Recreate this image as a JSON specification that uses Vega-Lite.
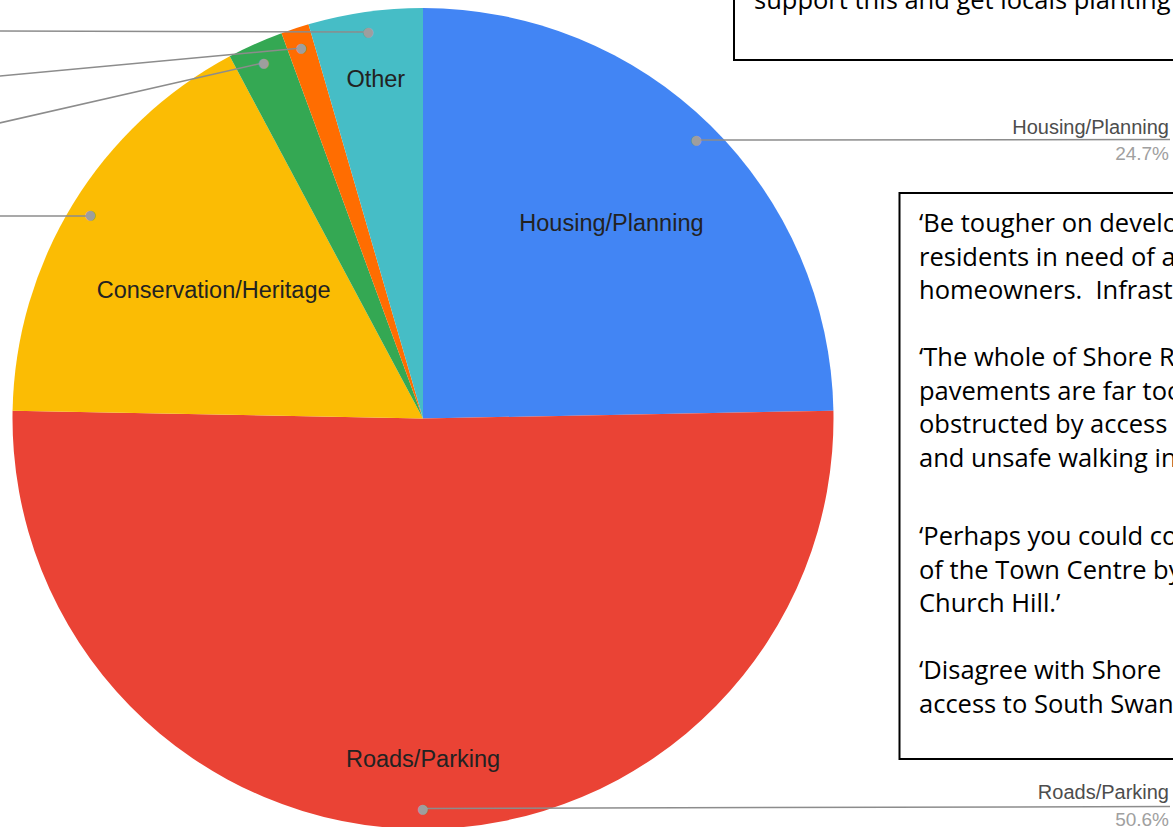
{
  "$schema": "https://vega.github.io/schema/vega-lite/v6.json",
  "width": 1173,
  "height": 827,
  "padding": 0,
  "autosize": {"type": "none"},
  "background": "#ffffff",
  "config": {"view": {"stroke": null}, "axis": {"disable": true}},
  "datasets": {
    "slices": [
      {"category": "Housing/Planning", "pct": 24.7, "order": 1},
      {"category": "Roads/Parking", "pct": 50.6, "order": 2},
      {"category": "Conservation/Heritage", "pct": 16.9, "order": 3},
      {"category": "Category 4", "pct": 2.2, "order": 4},
      {"category": "Category 5", "pct": 1.1, "order": 5},
      {"category": "Other", "pct": 4.5, "order": 6}
    ],
    "notes": [
      {"para": 0, "lines": ["support this and get locals planting"]},
      {"para": 1, "lines": ["‘Be tougher on developers", "residents in need of affordable", "homeowners. \u00a0Infrastructure"]},
      {"para": 2, "lines": ["‘The whole of Shore Road", "pavements are far too narrow", "obstructed by access", "and unsafe walking in"]},
      {"para": 3, "lines": ["‘Perhaps you could consider", "of the Town Centre by", "Church Hill.’"]},
      {"para": 4, "lines": ["‘Disagree with Shore", "access to South Swanage"]}
    ],
    "one": [{}]
  },
  "data": {"name": "slices"},
  "layer": [
    {
      "mark": {"type": "arc", "radius": 410.5},
      "encoding": {
        "theta": {"field": "pct", "type": "quantitative", "stack": true},
        "order": {"field": "order", "type": "quantitative"},
        "color": {"field": "category", "type": "nominal", "legend": null,
          "scale": {"domain": ["Housing/Planning", "Roads/Parking", "Conservation/Heritage", "Category 4", "Category 5", "Other"],
                    "range": ["#4285F4", "#EA4335", "#FBBC04", "#34A853", "#FF6D01", "#46BDC6"]}},
        "x": {"datum": 423, "type": "quantitative", "scale": {"domain": [0, 1173], "nice": false, "zero": false}},
        "y": {"datum": 418.5, "type": "quantitative", "scale": {"domain": [0, 827], "reverse": true, "nice": false, "zero": false}}
      }
    },
    {
      "data": {"name": "one"},
      "mark": {"type": "rule", "color": "#8c8c8c", "strokeWidth": 1.5},
      "encoding": {
        "x": {"datum": 368, "type": "quantitative", "scale": {"domain": [0, 1173], "nice": false, "zero": false}},
        "y": {"datum": 32, "type": "quantitative", "scale": {"domain": [0, 827], "reverse": true, "nice": false, "zero": false}},
        "x2": {"datum": -5}, "y2": {"datum": 31}
      }
    },
    {
      "data": {"name": "one"},
      "mark": {"type": "rule", "color": "#8c8c8c", "strokeWidth": 1.5},
      "encoding": {
        "x": {"datum": 302, "type": "quantitative", "scale": {"domain": [0, 1173], "nice": false, "zero": false}},
        "y": {"datum": 48, "type": "quantitative", "scale": {"domain": [0, 827], "reverse": true, "nice": false, "zero": false}},
        "x2": {"datum": -5}, "y2": {"datum": 76.5}
      }
    },
    {
      "data": {"name": "one"},
      "mark": {"type": "rule", "color": "#8c8c8c", "strokeWidth": 1.5},
      "encoding": {
        "x": {"datum": 263, "type": "quantitative", "scale": {"domain": [0, 1173], "nice": false, "zero": false}},
        "y": {"datum": 63, "type": "quantitative", "scale": {"domain": [0, 827], "reverse": true, "nice": false, "zero": false}},
        "x2": {"datum": -5}, "y2": {"datum": 124}
      }
    },
    {
      "data": {"name": "one"},
      "mark": {"type": "rule", "color": "#8c8c8c", "strokeWidth": 1.5},
      "encoding": {
        "x": {"datum": 90, "type": "quantitative", "scale": {"domain": [0, 1173], "nice": false, "zero": false}},
        "y": {"datum": 216, "type": "quantitative", "scale": {"domain": [0, 827], "reverse": true, "nice": false, "zero": false}},
        "x2": {"datum": -5}, "y2": {"datum": 216}
      }
    },
    {
      "data": {"name": "one"},
      "mark": {"type": "rule", "color": "#8c8c8c", "strokeWidth": 1.5},
      "encoding": {
        "x": {"datum": 697, "type": "quantitative", "scale": {"domain": [0, 1173], "nice": false, "zero": false}},
        "y": {"datum": 140, "type": "quantitative", "scale": {"domain": [0, 827], "reverse": true, "nice": false, "zero": false}},
        "x2": {"datum": 1170}, "y2": {"datum": 139.5}
      }
    },
    {
      "data": {"name": "one"},
      "mark": {"type": "rule", "color": "#8c8c8c", "strokeWidth": 1.5},
      "encoding": {
        "x": {"datum": 423, "type": "quantitative", "scale": {"domain": [0, 1173], "nice": false, "zero": false}},
        "y": {"datum": 808.5, "type": "quantitative", "scale": {"domain": [0, 827], "reverse": true, "nice": false, "zero": false}},
        "x2": {"datum": 1170}, "y2": {"datum": 806.5}
      }
    },
    {
      "mark": {"type": "text", "radius": 390, "text": "●", "font": "DejaVu Sans", "fontSize": 13, "color": "#9e9e9e", "align": "center", "baseline": "middle"},
      "encoding": {
        "theta": {"field": "pct", "type": "quantitative", "stack": true},
        "order": {"field": "order", "type": "quantitative"},
        "x": {"datum": 423, "type": "quantitative", "scale": {"domain": [0, 1173], "nice": false, "zero": false}},
        "y": {"datum": 418.5, "type": "quantitative", "scale": {"domain": [0, 827], "reverse": true, "nice": false, "zero": false}}
      }
    },
    {
      "mark": {"type": "text", "radius": 269, "dy": 4, "font": "Liberation Sans", "fontSize": 23.5, "color": "#222222", "align": "center", "baseline": "alphabetic"},
      "encoding": {
        "theta": {"field": "pct", "type": "quantitative", "stack": true},
        "order": {"field": "order", "type": "quantitative"},
        "text": {"condition": {"test": "datum.category === 'Housing/Planning'", "field": "category", "type": "nominal"}, "value": ""},
        "x": {"datum": 423, "type": "quantitative", "scale": {"domain": [0, 1173], "nice": false, "zero": false}},
        "y": {"datum": 418.5, "type": "quantitative", "scale": {"domain": [0, 827], "reverse": true, "nice": false, "zero": false}}
      }
    },
    {
      "mark": {"type": "text", "radius": 348, "font": "Liberation Sans", "fontSize": 23.5, "color": "#222222", "align": "center", "baseline": "alphabetic"},
      "encoding": {
        "theta": {"field": "pct", "type": "quantitative", "stack": true},
        "order": {"field": "order", "type": "quantitative"},
        "text": {"condition": {"test": "datum.category === 'Roads/Parking'", "field": "category", "type": "nominal"}, "value": ""},
        "x": {"datum": 423, "type": "quantitative", "scale": {"domain": [0, 1173], "nice": false, "zero": false}},
        "y": {"datum": 418.5, "type": "quantitative", "scale": {"domain": [0, 827], "reverse": true, "nice": false, "zero": false}}
      }
    },
    {
      "mark": {"type": "text", "radius": 242, "dy": 6, "dx": -3, "font": "Liberation Sans", "fontSize": 23.5, "color": "#222222", "align": "center", "baseline": "alphabetic"},
      "encoding": {
        "theta": {"field": "pct", "type": "quantitative", "stack": true},
        "order": {"field": "order", "type": "quantitative"},
        "text": {"condition": {"test": "datum.category === 'Conservation/Heritage'", "field": "category", "type": "nominal"}, "value": ""},
        "x": {"datum": 423, "type": "quantitative", "scale": {"domain": [0, 1173], "nice": false, "zero": false}},
        "y": {"datum": 418.5, "type": "quantitative", "scale": {"domain": [0, 827], "reverse": true, "nice": false, "zero": false}}
      }
    },
    {
      "mark": {"type": "text", "radius": 335, "font": "Liberation Sans", "fontSize": 23.5, "color": "#222222", "align": "center", "baseline": "alphabetic"},
      "encoding": {
        "theta": {"field": "pct", "type": "quantitative", "stack": true},
        "order": {"field": "order", "type": "quantitative"},
        "text": {"condition": {"test": "datum.category === 'Other'", "field": "category", "type": "nominal"}, "value": ""},
        "x": {"datum": 423, "type": "quantitative", "scale": {"domain": [0, 1173], "nice": false, "zero": false}},
        "y": {"datum": 418.5, "type": "quantitative", "scale": {"domain": [0, 827], "reverse": true, "nice": false, "zero": false}}
      }
    },
    {
      "data": {"name": "one"},
      "mark": {"type": "text", "font": "Liberation Sans", "fontSize": 20, "color": "#4d4d4d", "align": "right", "baseline": "alphabetic", "text": "Housing/Planning"},
      "encoding": {
        "x": {"datum": 1169, "type": "quantitative", "scale": {"domain": [0, 1173], "nice": false, "zero": false}},
        "y": {"datum": 133.5, "type": "quantitative", "scale": {"domain": [0, 827], "reverse": true, "nice": false, "zero": false}}
      }
    },
    {
      "data": {"name": "one"},
      "mark": {"type": "text", "font": "Liberation Sans", "fontSize": 19, "color": "#a0a0a0", "align": "right", "baseline": "alphabetic", "text": "24.7%"},
      "encoding": {
        "x": {"datum": 1169, "type": "quantitative", "scale": {"domain": [0, 1173], "nice": false, "zero": false}},
        "y": {"datum": 159.5, "type": "quantitative", "scale": {"domain": [0, 827], "reverse": true, "nice": false, "zero": false}}
      }
    },
    {
      "data": {"name": "one"},
      "mark": {"type": "text", "font": "Liberation Sans", "fontSize": 20, "color": "#4d4d4d", "align": "right", "baseline": "alphabetic", "text": "Roads/Parking"},
      "encoding": {
        "x": {"datum": 1169, "type": "quantitative", "scale": {"domain": [0, 1173], "nice": false, "zero": false}},
        "y": {"datum": 799, "type": "quantitative", "scale": {"domain": [0, 827], "reverse": true, "nice": false, "zero": false}}
      }
    },
    {
      "data": {"name": "one"},
      "mark": {"type": "text", "font": "Liberation Sans", "fontSize": 19, "color": "#a0a0a0", "align": "right", "baseline": "alphabetic", "text": "50.6%"},
      "encoding": {
        "x": {"datum": 1169, "type": "quantitative", "scale": {"domain": [0, 1173], "nice": false, "zero": false}},
        "y": {"datum": 825.5, "type": "quantitative", "scale": {"domain": [0, 827], "reverse": true, "nice": false, "zero": false}}
      }
    },
    {
      "data": {"name": "one"},
      "mark": {"type": "rect", "fill": "#ffffff", "stroke": "#000000", "strokeWidth": 2},
      "encoding": {
        "x": {"datum": 734, "type": "quantitative", "scale": {"domain": [0, 1173], "nice": false, "zero": false}},
        "y": {"datum": -20, "type": "quantitative", "scale": {"domain": [0, 827], "reverse": true, "nice": false, "zero": false}},
        "x2": {"datum": 1190}, "y2": {"datum": 60}
      }
    },
    {
      "data": {"name": "one"},
      "mark": {"type": "rect", "fill": "#ffffff", "stroke": "#000000", "strokeWidth": 2},
      "encoding": {
        "x": {"datum": 899.5, "type": "quantitative", "scale": {"domain": [0, 1173], "nice": false, "zero": false}},
        "y": {"datum": 193, "type": "quantitative", "scale": {"domain": [0, 827], "reverse": true, "nice": false, "zero": false}},
        "x2": {"datum": 1190}, "y2": {"datum": 759}
      }
    },
    {
      "data": {"name": "notes"},
      "transform": [{"filter": "datum.para === 0"}],
      "mark": {"type": "text", "font": "Open Sans", "fontSize": 25.5, "color": "#000000", "align": "left", "baseline": "alphabetic", "lineHeight": 33.7},
      "encoding": {
        "text": {"field": "lines"},
        "x": {"datum": 754, "type": "quantitative", "scale": {"domain": [0, 1173], "nice": false, "zero": false}},
        "y": {"datum": 9, "type": "quantitative", "scale": {"domain": [0, 827], "reverse": true, "nice": false, "zero": false}}
      }
    },
    {
      "data": {"name": "notes"},
      "transform": [{"filter": "datum.para === 1"}],
      "mark": {"type": "text", "font": "Open Sans", "fontSize": 25.5, "color": "#000000", "align": "left", "baseline": "alphabetic", "lineHeight": 33.7},
      "encoding": {
        "text": {"field": "lines"},
        "x": {"datum": 919, "type": "quantitative", "scale": {"domain": [0, 1173], "nice": false, "zero": false}},
        "y": {"datum": 232, "type": "quantitative", "scale": {"domain": [0, 827], "reverse": true, "nice": false, "zero": false}}
      }
    },
    {
      "data": {"name": "notes"},
      "transform": [{"filter": "datum.para === 2"}],
      "mark": {"type": "text", "font": "Open Sans", "fontSize": 25.5, "color": "#000000", "align": "left", "baseline": "alphabetic", "lineHeight": 33.7},
      "encoding": {
        "text": {"field": "lines"},
        "x": {"datum": 919, "type": "quantitative", "scale": {"domain": [0, 1173], "nice": false, "zero": false}},
        "y": {"datum": 366, "type": "quantitative", "scale": {"domain": [0, 827], "reverse": true, "nice": false, "zero": false}}
      }
    },
    {
      "data": {"name": "notes"},
      "transform": [{"filter": "datum.para === 3"}],
      "mark": {"type": "text", "font": "Open Sans", "fontSize": 25.5, "color": "#000000", "align": "left", "baseline": "alphabetic", "lineHeight": 33.7},
      "encoding": {
        "text": {"field": "lines"},
        "x": {"datum": 919, "type": "quantitative", "scale": {"domain": [0, 1173], "nice": false, "zero": false}},
        "y": {"datum": 545, "type": "quantitative", "scale": {"domain": [0, 827], "reverse": true, "nice": false, "zero": false}}
      }
    },
    {
      "data": {"name": "notes"},
      "transform": [{"filter": "datum.para === 4"}],
      "mark": {"type": "text", "font": "Open Sans", "fontSize": 25.5, "color": "#000000", "align": "left", "baseline": "alphabetic", "lineHeight": 33.7},
      "encoding": {
        "text": {"field": "lines"},
        "x": {"datum": 919, "type": "quantitative", "scale": {"domain": [0, 1173], "nice": false, "zero": false}},
        "y": {"datum": 679, "type": "quantitative", "scale": {"domain": [0, 827], "reverse": true, "nice": false, "zero": false}}
      }
    }
  ]
}
